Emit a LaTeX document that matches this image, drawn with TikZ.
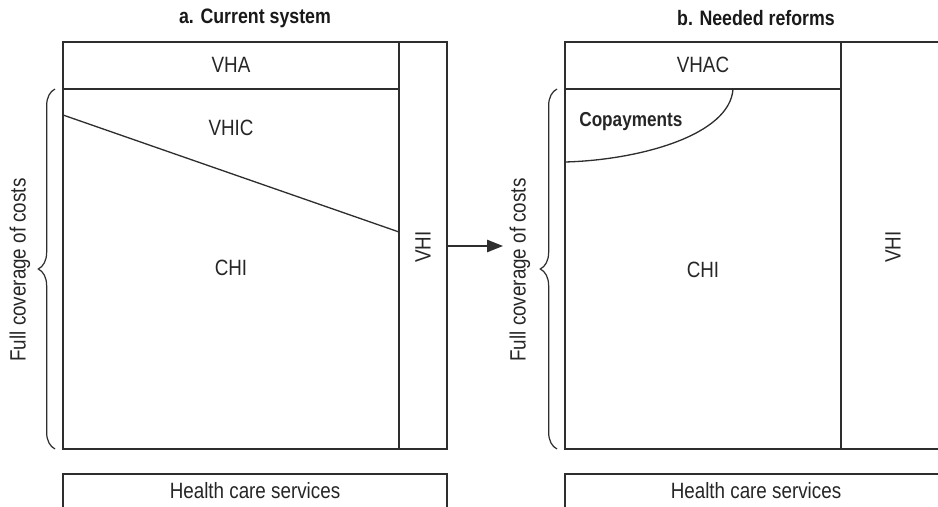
\documentclass[tikz,border=0pt]{standalone}
\usepackage{fontspec}
\setmainfont{Liberation Sans}[FakeStretch=0.85]
\usepackage{xcolor}
\usetikzlibrary{arrows.meta,calc,positioning,decorations.pathreplacing}

\begin{document}
\begin{tikzpicture}[x=0.02cm,y=-0.02cm,>=Triangle,font=\fontsize{12.6}{14}\selectfont]
\tikzset{frame/.style={line width=.75pt,draw=black!82},
lbl/.style={inner sep=0pt,text=black!85},
title/.style={inner sep=0pt,text=black!90,font=\fontsize{11.9}{14}\selectfont\bfseries},
coverbrace/.style={line width=.7pt,draw=black!82,decorate,decoration={brace,amplitude=9.5pt,aspect=.5}}}
\useasboundingbox (0,0) rectangle (938,507);
% a: current system
\node[title] (titleA) at (255,18) {a. Current system};
\draw[frame] (63,42) rectangle (447,449);
\draw[frame] (63,89)--(399,89);
\draw[frame] (399,42)--(399,449);
\draw[frame] (63,115)--(399,232);
\node[lbl] (vhaA) at (231,65) {VHA};
\node[lbl] (vhicA) at (231,128) {VHIC};
\node[lbl] (chiA) at (231,268) {CHI};
\node[lbl,rotate=90] (vhiA) at (423,247) {VHI};
\draw[coverbrace] (55,449)--(55,89);
\node[lbl,rotate=90] (coverA) at (20,270) {Full coverage of costs};
\draw[frame] (63,515)--(63,474)--(447,474)--(447,515);
\node[lbl] (hcsA) at (255,491) {Health care services};
% arrow between panels
\coordinate (arrS) at (447,246);
\coordinate (arrE) at (503,246);
\draw[frame,-{Triangle[length=9pt,width=7pt]}] (arrS)--(arrE);
% b: needed reforms
\node[title] (titleB) at (756,18) {b. Needed reforms};
\draw[frame] (945,42)--(565,42)--(565,449)--(945,449);
\draw[frame] (565,89)--(841,89);
\draw[frame] (841,42)--(841,449);
\draw[frame] (733,89) .. controls (730,135) and (640,160) .. (565,162);
\node[lbl] (vhacB) at (703,65) {VHAC};
\node[lbl,anchor=west,font=\fontsize{11.5}{14}\selectfont\bfseries] (copayB) at (579,122) {Copayments};
\node[lbl] (chiB) at (703,270) {CHI};
\node[lbl,rotate=90] (vhiB) at (893,247) {VHI};
\draw[coverbrace] (557,449)--(557,89);
\node[lbl,rotate=90] (coverB) at (520,270) {Full coverage of costs};
\draw[frame] (565,515)--(565,474)--(945,474);
\node[lbl] (hcsB) at (756,491) {Health care services};
\end{tikzpicture}
\end{document}
